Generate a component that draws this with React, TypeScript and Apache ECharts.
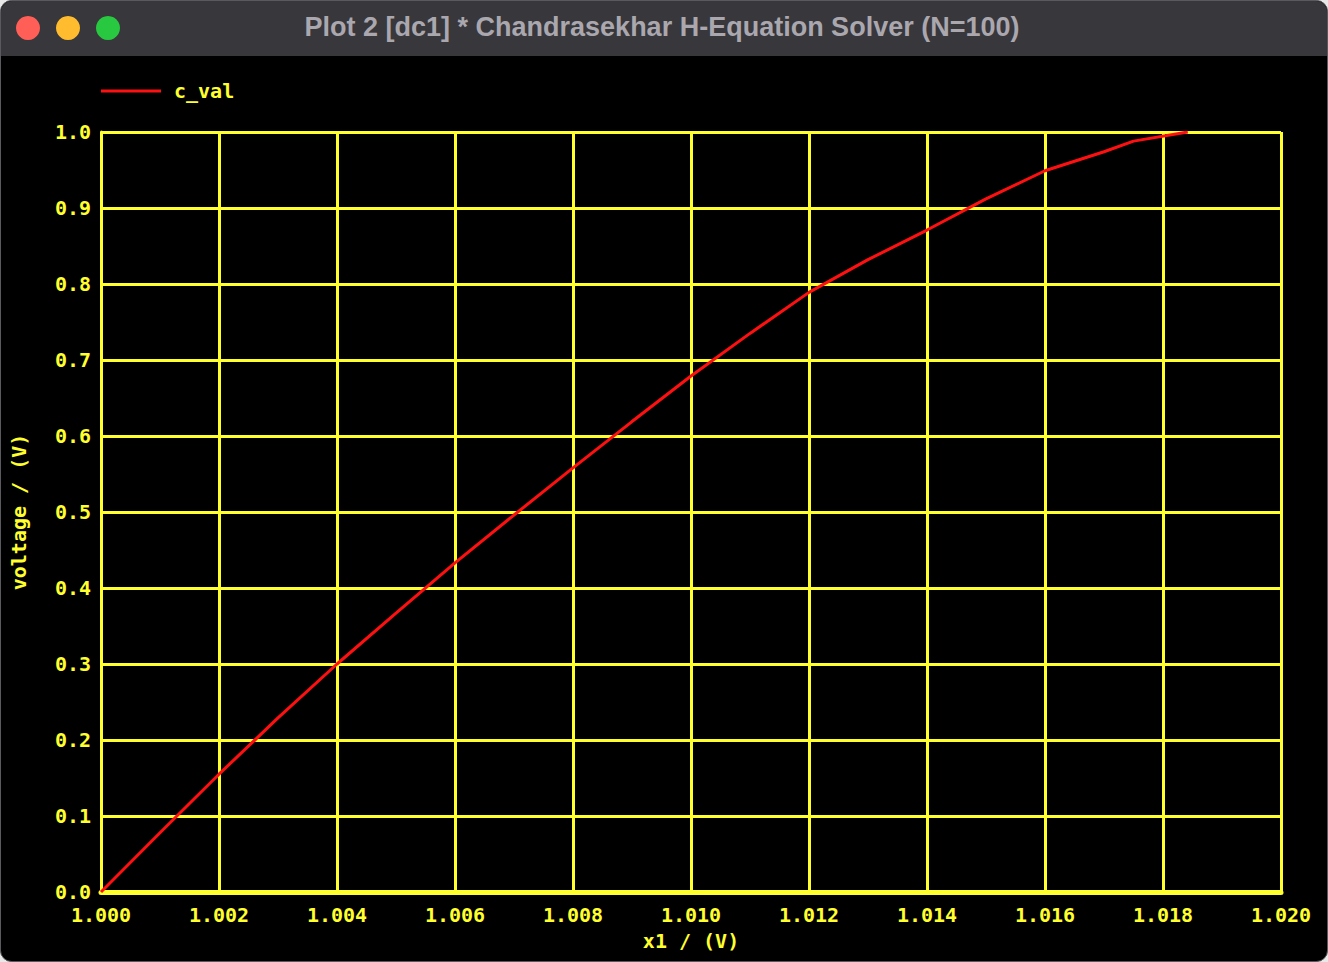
import React, { useEffect, useRef } from "react";
import * as echarts from "echarts";

const xValues = [1.0, 1.001, 1.002, 1.003, 1.004, 1.005, 1.006, 1.007, 1.008, 1.009, 1.01, 1.011, 1.012, 1.013, 1.014, 1.015, 1.016, 1.017, 1.0175, 1.01842];
const cVal = [0, 0.078, 0.155, 0.229, 0.3, 0.367, 0.433, 0.496, 0.558, 0.619, 0.679, 0.735, 0.789, 0.832, 0.871, 0.912, 0.949, 0.974, 0.988, 1.0];

const seriesName = "c_val";
const windowTitle = "Plot 2 [dc1] * Chandrasekhar H-Equation Solver (N=100)";
const xAxisName = "x1 / (V)";
const yAxisName = "voltage / (V)";

const YELLOW = "#ffff2e";
const MONO = "'DejaVu Sans Mono', 'Liberation Mono', monospace";
const WEIGHT = "bold";

export default function App() {
  const ref = useRef<HTMLDivElement>(null);
  useEffect(() => {
    if (!ref.current) return;
    const chart = echarts.init(ref.current, null, { renderer: "svg" });
    const data = xValues.map((x, i) => [x, cVal[i]]);
    const txt = { color: YELLOW, fontFamily: MONO, fontSize: 20, fontWeight: WEIGHT };
    chart.setOption({
      animation: false,
      backgroundColor: "transparent",
      graphic: [
        {
          type: "rect",
          z: -10,
          shape: { x: 0.5, y: 0.5, width: 1327, height: 961, r: 11 },
          style: { fill: "#000000", stroke: "#5a5a5e", lineWidth: 1 },
          silent: true,
        },
        {
          type: "rect",
          z: -9,
          shape: { x: 1, y: 1, width: 1326, height: 55, r: [11, 11, 0, 0] },
          style: { fill: "#38373c" },
          silent: true,
        },
        { type: "circle", shape: { cx: 28, cy: 28, r: 12 }, style: { fill: "#ff5f57" }, silent: true },
        { type: "circle", shape: { cx: 68, cy: 28, r: 12 }, style: { fill: "#febc2e" }, silent: true },
        { type: "circle", shape: { cx: 108, cy: 28, r: 12 }, style: { fill: "#28c840" }, silent: true },
        {
          type: "text",
          x: 662,
          y: 27,
          style: {
            text: windowTitle,
            fill: "#aaa8ae",
            font: "bold 27px 'Liberation Sans', Arial, sans-serif",
            textAlign: "center",
            textVerticalAlign: "middle",
          },
          silent: true,
        },
      ],
      legend: {
        left: 101,
        top: 81,
        padding: 0,
        itemWidth: 60,
        itemHeight: 3,
        icon: "rect",
        data: [{ name: seriesName, icon: "rect" }],
        textStyle: { ...txt, padding: [0, 0, 0, 8] },
      },
      grid: { left: 101, right: 47, top: 132, bottom: 70, containLabel: false, outerBoundsMode: "none" },
      xAxis: {
        type: "value",
        min: 1.0,
        max: 1.02,
        interval: 0.002,
        name: xAxisName,
        nameLocation: "middle",
        nameGap: 39,
        nameTextStyle: txt,
        axisLine: { show: true, onZero: false, lineStyle: { color: YELLOW, width: 5 } },
        axisTick: { show: false },
        axisLabel: { ...txt, margin: 13, formatter: (v: number) => v.toFixed(3) },
        splitLine: { show: true, lineStyle: { color: YELLOW, width: 3 } },
      },
      yAxis: {
        type: "value",
        min: 0,
        max: 1,
        interval: 0.1,
        name: yAxisName,
        nameLocation: "middle",
        nameGap: 72,
        nameRotate: 90,
        nameTextStyle: txt,
        axisLine: { show: true, lineStyle: { color: YELLOW, width: 3 } },
        axisTick: { show: false },
        axisLabel: { ...txt, margin: 10, formatter: (v: number) => v.toFixed(1) },
        splitLine: { show: true, lineStyle: { color: YELLOW, width: 3 } },
      },
      series: [
        {
          name: seriesName,
          type: "line",
          data,
          showSymbol: false,
          smooth: false,
          z: 5,
          lineStyle: { color: "#ff1010", width: 3 },
          itemStyle: { color: "#ff1010" },
        },
      ],
    });
    return () => chart.dispose();
  }, []);
  return (
    <div
      ref={ref}
      style={{ position: "absolute", left: 0, top: 0, width: 1328, height: 962, background: "#e8e8e8" }}
    />
  );
}
